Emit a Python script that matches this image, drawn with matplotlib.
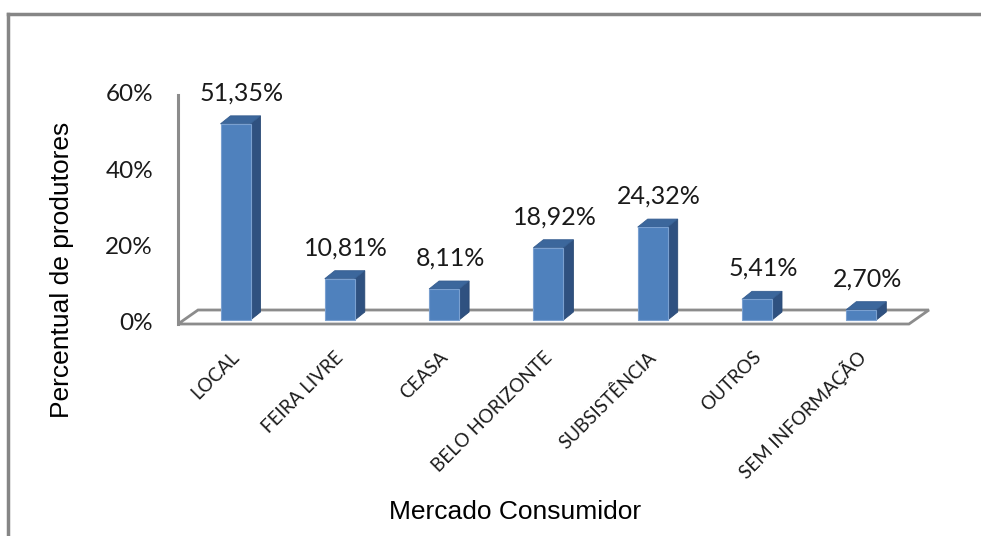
import matplotlib.pyplot as plt
from matplotlib.patches import Polygon, Rectangle
from matplotlib.lines import Line2D

categories = ["LOCAL", "FEIRA LIVRE", "CEASA", "BELO HORIZONTE",
              "SUBSISTÊNCIA", "OUTROS", "SEM INFORMAÇÃO"]
values = [51.35, 10.81, 8.11, 18.92, 24.32, 5.41, 2.70]
value_labels = ["51,35%", "10,81%", "8,11%", "18,92%", "24,32%", "5,41%", "2,70%"]
yticks = [0, 20, 40, 60]
ytick_labels = ["0%", "20%", "40%", "60%"]

W, H = 981, 536
fig = plt.figure(figsize=(W / 100, H / 100), dpi=100)
fig.patch.set_facecolor("white")

# pixel anchors of the plot area
x0_px, step_px = 235.5, 104.3      # first category centre, spacing
y0_px, unit_px = 320.0, 3.82       # bar baseline, pixels per percent
left_px, right_px, top_px, bot_px = 150, 950, 70, 340

ax = fig.add_axes([left_px / W, 1 - bot_px / H,
                   (right_px - left_px) / W, (bot_px - top_px) / H])
ax.set_xlim((left_px - x0_px) / step_px, (right_px - x0_px) / step_px)
ax.set_ylim((y0_px - bot_px) / unit_px, (y0_px - top_px) / unit_px)
ax.axis("off")

# 3d depth offsets in data units
ddx, ddy = 10 / step_px, 8 / unit_px
bar_w = 30 / step_px
floor_front = -4 / unit_px
floor_dx, floor_dy = 20 / step_px, 14 / unit_px
gray = "#8c8c8c"

# floor and left wall edge
fl, fr = -0.551, 6.457
floor = Polygon([(fl, floor_front), (fr, floor_front),
                 (fr + floor_dx, floor_front + floor_dy),
                 (fl + floor_dx, floor_front + floor_dy)],
                closed=True, facecolor="white", edgecolor=gray, lw=2, zorder=1)
ax.add_patch(floor)
ax.add_line(Line2D([fl, fl], [floor_front, 60 + floor_front], color=gray, lw=2.2, zorder=1))

front_c, side_c, top_c = "#4f81bd", "#2f5180", "#3c679c"
for i, v in enumerate(values):
    xl, xr = i - bar_w / 2, i + bar_w / 2
    ax.add_patch(Polygon([(xr, 0), (xr + ddx, ddy), (xr + ddx, v + ddy), (xr, v)],
                         closed=True, facecolor=side_c, edgecolor="#2a4a75", lw=0.6, zorder=3))
    ax.add_patch(Polygon([(xl, v), (xr, v), (xr + ddx, v + ddy), (xl + ddx, v + ddy)],
                         closed=True, facecolor=top_c, edgecolor="#355d90", lw=0.6, zorder=3))
    ax.add_patch(Rectangle((xl, 0), bar_w, v, facecolor=front_c,
                           edgecolor="#7aa0d0", lw=0.8, zorder=4))
    ax.text(i + 0.06, v + 31 / unit_px, value_labels[i], ha="center", va="center",
            fontsize=18, family="Lato", color="#1a1a1a", zorder=5)
    ax.text(i + 0.01, -9.0, categories[i], rotation=45, rotation_mode="anchor",
            ha="right", va="center", fontsize=13.5, family="Lato", color="#1a1a1a",
            clip_on=False)

for t, lab in zip(yticks, ytick_labels):
    ax.text(fl - 0.24, t + floor_front, lab, ha="right", va="center",
            fontsize=17.5, family="Lato", color="#1a1a1a", clip_on=False)

fig.text(62 / W, 1 - 270 / H, "Percentual de produtores", rotation=90,
         ha="center", va="center", fontsize=19, family="Liberation Sans")
fig.text(515 / W, 1 - 512 / H, "Mercado Consumidor",
         ha="center", va="center", fontsize=19, family="Liberation Sans")

# chart frame (top and left edges visible)
fig.add_artist(Line2D([8 / W, 1], [1 - 14 / H, 1 - 14 / H], color="#868686", lw=2.5,
                      transform=fig.transFigure))
fig.add_artist(Line2D([8 / W, 8 / W], [0, 1 - 14 / H], color="#868686", lw=2.5,
                      transform=fig.transFigure))

fig.savefig("out.png", dpi=100, facecolor="white")
